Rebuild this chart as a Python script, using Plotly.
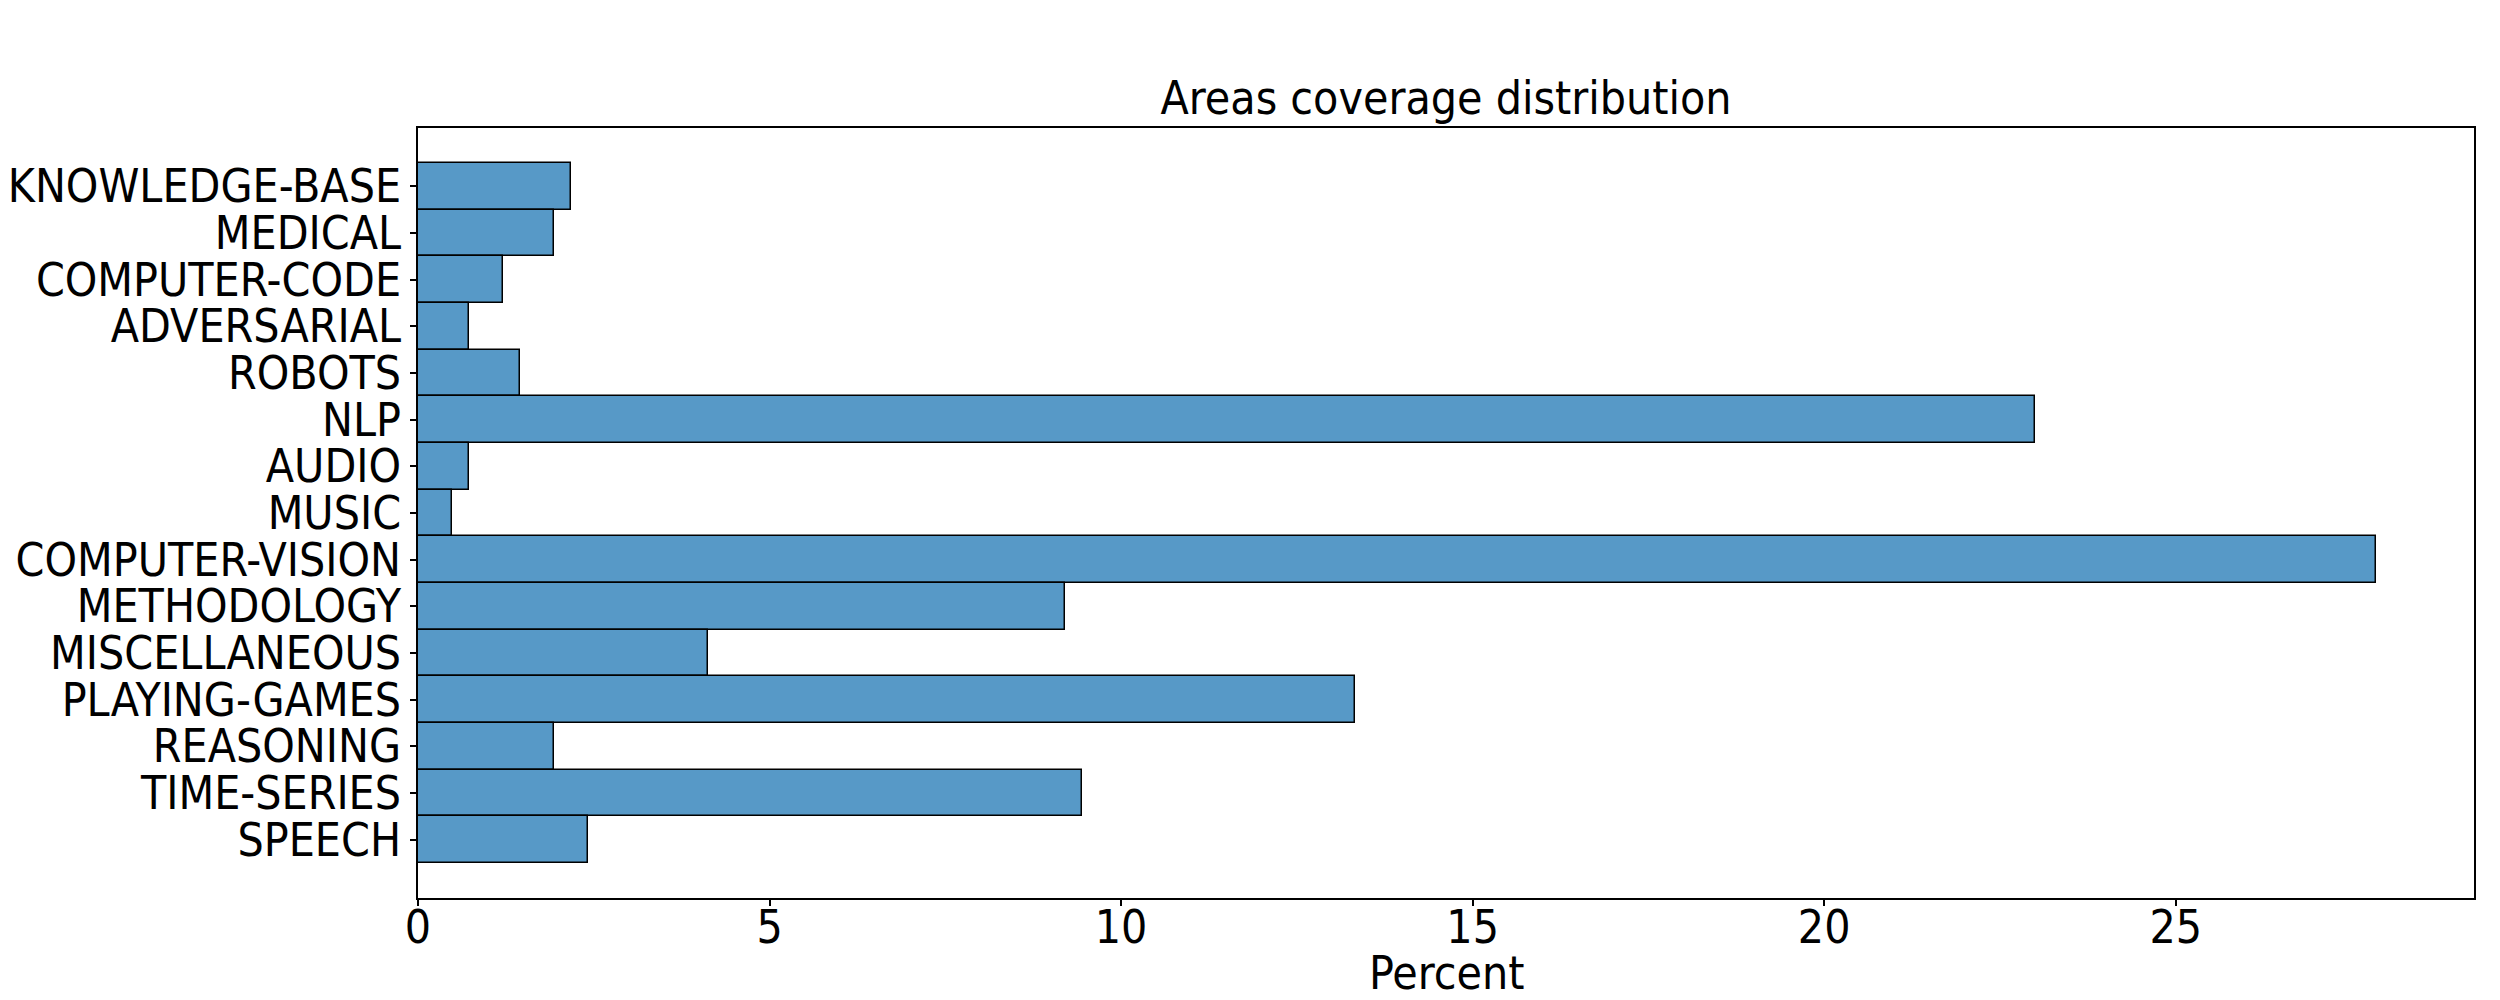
import plotly.graph_objects as go

categories = ["KNOWLEDGE-BASE", "MEDICAL", "COMPUTER-CODE", "ADVERSARIAL", "ROBOTS",
              "NLP", "AUDIO", "MUSIC", "COMPUTER-VISION", "METHODOLOGY",
              "MISCELLANEOUS", "PLAYING-GAMES", "REASONING", "TIME-SERIES", "SPEECH"]
percent = [2.18, 1.94, 1.21, 0.73, 1.45,
           23.00, 0.73, 0.48, 27.85, 9.20,
           4.12, 13.32, 1.94, 9.44, 2.42]
x_ticks = [0, 5, 10, 15, 20, 25]

FONT = "DejaVu Sans Condensed, DejaVu Sans"
FS = 46

fig = go.Figure(go.Bar(
    x=percent, y=categories, orientation="h",
    marker=dict(color="rgba(31,119,180,0.75)", line=dict(color="black", width=1.5)),
    width=1.0,
))

fig.update_layout(
    width=2500, height=1000,
    margin=dict(l=410, r=34, t=120, b=110, autoexpand=False),
    paper_bgcolor="white", plot_bgcolor="white",
    bargap=0, showlegend=False,
    font=dict(family=FONT, size=FS, color="black"),
    title=dict(text="Areas coverage distribution", x=0.5, xref="paper", xanchor="center",
               y=1 - 90 / 1000, yref="container", yanchor="middle",
               font=dict(family=FONT, size=FS, color="black")),
    annotations=[dict(text="Percent", xref="paper", yref="paper", x=0.5, y=-0.097,
                      xanchor="center", yanchor="middle", showarrow=False,
                      font=dict(family=FONT, size=FS, color="black"))],
)

fig.update_xaxes(
    range=[0, max(percent) * 1.05], tickvals=x_ticks, ticktext=[str(t) for t in x_ticks],
    showgrid=False, zeroline=False, showline=True, mirror=True, automargin=False,
    linecolor="black", linewidth=1.5, ticks="outside", ticklen=6, tickwidth=1.5,
    tickcolor="black", tickfont=dict(family=FONT, size=FS, color="black"),
    ticklabelstandoff=-18,
)
n = len(categories)
fig.update_yaxes(
    type="category", categoryorder="array", categoryarray=categories,
    tickmode="array", tickvals=categories, ticktext=categories,
    range=[n - 0.5 + 0.05 * n, -0.5 - 0.05 * n], automargin=False,
    showgrid=False, zeroline=False, showline=True, mirror=True,
    linecolor="black", linewidth=1.5, ticks="outside", ticklen=6, tickwidth=1.5,
    tickcolor="black", tickfont=dict(family=FONT, size=FS, color="black"),
)

fig.write_html("out.html")
